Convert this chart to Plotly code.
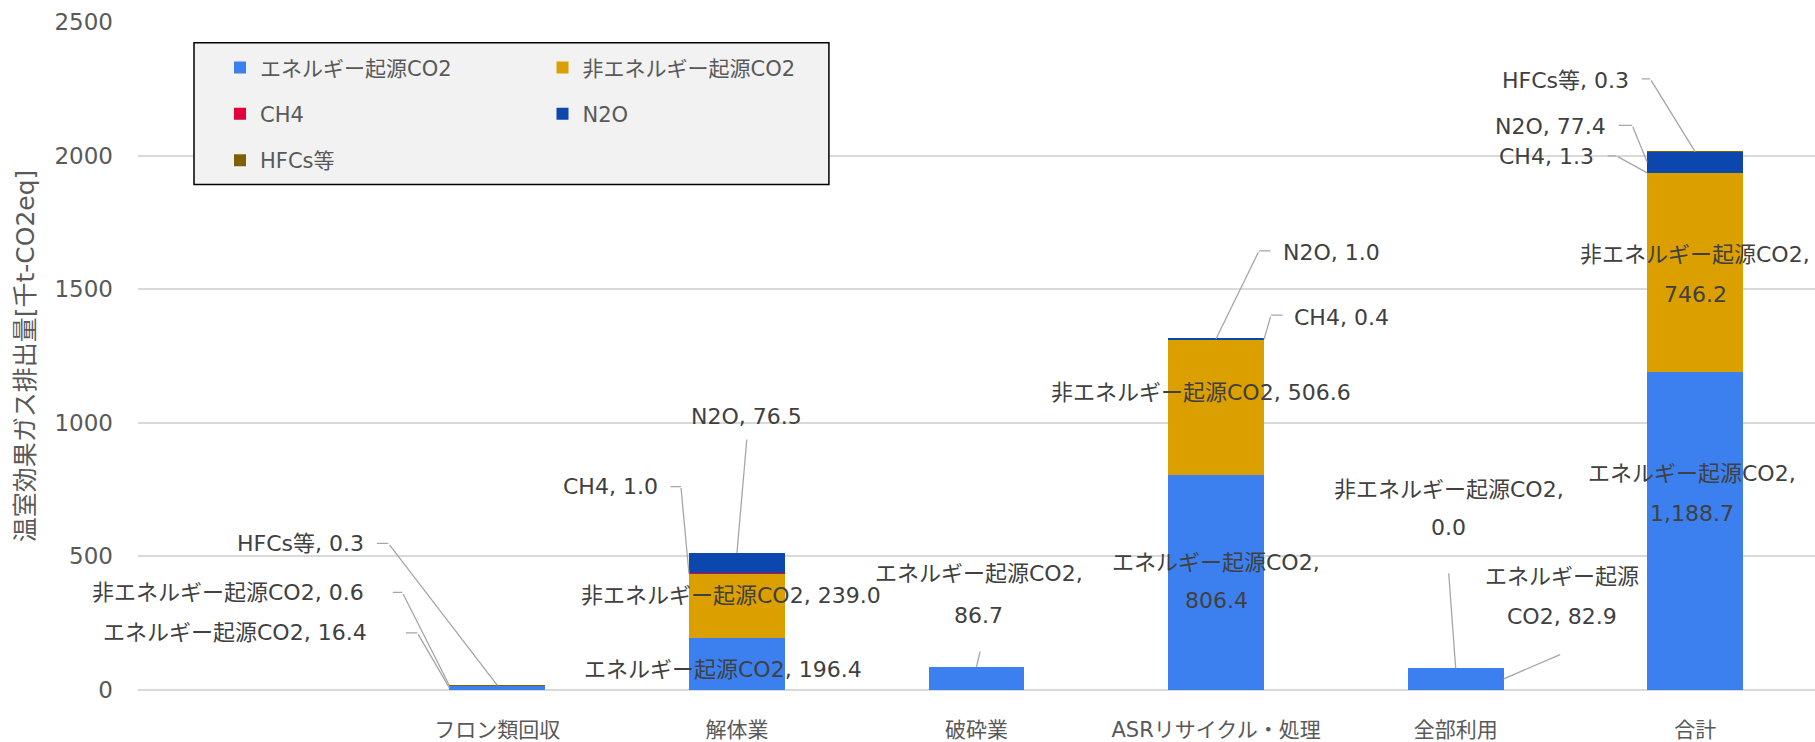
import plotly.graph_objects as go

# ---- data -------------------------------------------------------------
categories = ["フロン類回収", "解体業", "破砕業", "ASRリサイクル・処理", "全部利用", "合計"]
series_names = ["エネルギー起源CO2", "非エネルギー起源CO2", "CH4", "N2O", "HFCs等"]
energy_co2 = [16.4, 196.4, 86.7, 806.4, 82.9, 1188.7]
non_energy_co2 = [0.6, 239.0, None, 506.6, 0.0, 746.2]
ch4 = [None, 1.0, None, 0.4, None, 1.3]
n2o = [None, 76.5, None, 1.0, None, 77.4]
hfcs = [0.3, None, None, None, None, 0.3]
y_ticks = [0, 500, 1000, 1500, 2000, 2500]

series_values = [energy_co2, non_energy_co2, ch4, n2o, hfcs]
colors = ["#3C80F0", "#DC9F00", "#E0003C", "#0B47AC", "#7F6000"]
legend_ids = ["legend", "legend2", "legend", "legend2", "legend"]

# a blank leading slot keeps room for the legend on the left
x_cats = [" "] + categories

FONT = "DejaVu Sans, Noto Sans CJK JP, sans-serif"
LABEL_COLOR = "#404040"
AXIS_COLOR = "#595959"
LEADER_COLOR = "#A6A6A6"
BAR_HALF = 48  # half bar width in px, used to hook leaders onto bar edges

fig = go.Figure()
for name, vals, col, lg in zip(series_names, series_values, colors, legend_ids):
    fig.add_trace(go.Bar(
        x=x_cats, y=[None] + vals, name=name,
        marker=dict(color=col, line=dict(width=0)),
        legend=lg, legendgroup=name,
    ))


def val(c, s):
    v = series_values[s][c]
    return 0.0 if v is None else v


def stack_top(c, s):
    return sum(val(c, k) for k in range(s + 1))


# data labels: anchor on a segment, optional leader path (px offsets, y down)
labels = [
    dict(c=0, s=4, at="top", edge=0, path=[(0, 0), (-109, -142), (-122, -142)], xanchor="right", pos=[(-131, -142)]),
    dict(c=0, s=1, at="top", edge=-1, path=[(0, 0), (-47, -93), (-58, -93)], xanchor="right", pos=[(-83, -93)]),
    dict(c=0, s=0, at="mid", edge=-1, path=[(0, 0), (-32, -55), (-45, -55)], xanchor="right", pos=[(-80, -55)]),
    dict(c=1, s=0, at="mid", pos=[(-14, 6)]),
    dict(c=1, s=1, at="mid", pos=[(-6, -10)]),
    dict(c=1, s=2, at="mid", edge=-1, path=[(0, 0), (-8, -87), (-20, -87)], xanchor="right", pos=[(-29, -87)]),
    dict(c=1, s=3, at="top", path=[(0, 0), (10, -115)], pos=[(10, -136)]),
    dict(c=2, s=0, at="top", path=[(0, 0), (4, -17)], pos=[(2, -93), (2, -51)], split=","),
    dict(c=3, s=0, at="mid", pos=[(0, -20), (0, 18)], split=","),
    dict(c=3, s=1, at="mid", pos=[(-15, -14)]),
    dict(c=3, s=2, at="top", edge=1, path=[(0, 0), (7, -24), (20, -24)], xanchor="left", pos=[(28, -22)]),
    dict(c=3, s=3, at="top", edge=0, path=[(0, 0), (43, -88), (56, -88)], xanchor="left", pos=[(65, -86)]),
    dict(c=4, s=1, at="top", path=[(0, 0), (-7, -96)], pos=[(-7, -178), (-7, -140)], split=","),
    dict(c=4, s=0, at="mid", edge=1, path=[(0, 0), (58, -25)], pos=[(58, -102), (58, -62)], split="起源"),
    dict(c=5, s=0, at="mid", pos=[(-3, -58), (-3, -18)], split=","),
    dict(c=5, s=1, at="mid", pos=[(0, -18), (0, 22)], split=","),
    dict(c=5, s=2, at="mid", edge=-1, path=[(0, 0), (-31, -17), (-41, -17)], xanchor="right", pos=[(-51, -16)]),
    dict(c=5, s=3, at="mid", edge=-1, path=[(0, 0), (-15, -37), (-30, -37)], xanchor="right", pos=[(-39, -36)]),
    dict(c=5, s=4, at="top", path=[(0, 0), (-45, -73), (-55, -73)], xanchor="right", pos=[(-64, -71)]),
]

annotations = []
for lb in labels:
    c, s = lb["c"], lb["s"]
    v = val(c, s)
    top = stack_top(c, s)
    anchor_y = top if lb["at"] == "top" else top - v / 2
    edge_px = lb.get("edge", 0) * BAR_HALF
    text = f"{series_names[s]}, {v:,.1f}"
    if "split" in lb:
        i = text.index(lb["split"]) + len(lb["split"])
        lines = [text[:i], text[i:].strip()]
    else:
        lines = [text]
    for line, (dx, dy) in zip(lines, lb["pos"]):
        annotations.append(dict(
            x=x_cats[c + 1], y=anchor_y, xref="x", yref="y",
            xshift=edge_px + dx, yshift=-dy, text=line, showarrow=False,
            xanchor=lb.get("xanchor", "center"), yanchor="middle",
            font=dict(family=FONT, size=22, color=LABEL_COLOR),
        ))
    path = lb.get("path", [])
    for p, q in zip(path[:-1], path[1:]):
        annotations.append(dict(
            x=x_cats[c + 1], y=anchor_y, xref="x", yref="y",
            xshift=edge_px + p[0], yshift=-p[1], text="",
            showarrow=True, arrowhead=0, arrowwidth=1.3, arrowcolor=LEADER_COLOR,
            ax=q[0] - p[0], ay=q[1] - p[1], axref="pixel", ayref="pixel",
        ))

legend_style = dict(
    bgcolor="rgba(0,0,0,0)", borderwidth=0, traceorder="grouped",
    tracegroupgap=16, orientation="v", yanchor="top", xanchor="left",
    font=dict(family=FONT, size=21, color=AXIS_COLOR),
)

fig.update_layout(
    width=1815, height=742,
    margin=dict(l=138, r=0, t=22, b=52),
    paper_bgcolor="white", plot_bgcolor="white",
    barmode="stack", bargap=0.6,
    showlegend=True,
    legend=dict(x=0.0489, y=0.962, **legend_style),
    legend2=dict(x=0.2412, y=0.962, **legend_style),
    annotations=annotations,
    shapes=[dict(
        type="rect", xref="paper", yref="paper",
        x0=0.0334, x1=0.412, y0=0.7566, y1=0.969,
        fillcolor="#F2F2F2", line=dict(color="black", width=1.5), layer="above",
    )],
    xaxis=dict(
        type="category", categoryorder="array", categoryarray=x_cats,
        range=[-0.5, len(x_cats) - 0.5], showgrid=False, zeroline=False,
        ticks="", ticklabelstandoff=25,
        tickfont=dict(family=FONT, size=21, color=AXIS_COLOR),
    ),
    yaxis=dict(
        range=[0, 2500], tickvals=y_ticks, showgrid=True,
        gridcolor="#D9D9D9", gridwidth=1.5,
        zeroline=True, zerolinecolor="#D9D9D9", zerolinewidth=1.5,
        ticks="", ticklabelstandoff=24,
        tickfont=dict(family=FONT, size=23, color=AXIS_COLOR),
        title=dict(text="温室効果ガス排出量[千t-CO2eq]", standoff=12,
                   font=dict(family=FONT, size=25, color=AXIS_COLOR)),
    ),
)

fig.write_html("out.html")
